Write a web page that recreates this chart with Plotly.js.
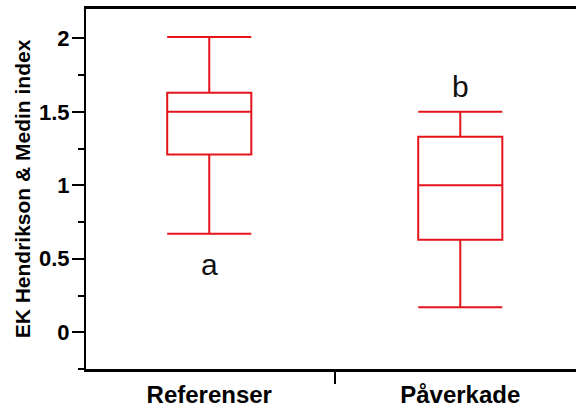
<!DOCTYPE html>
<html>
<head>
<meta charset="utf-8">
<script src="https://cdn.plot.ly/plotly-3.0.1.min.js"></script>
<style>
  html, body { margin: 0; padding: 0; background: #ffffff; }
  #chart { width: 576px; height: 410px; }
</style>
</head>
<body>
<div id="chart"></div>
<script>
// Groups and their five-number summaries (EK Hendrikson & Medin index)
const groups = ['Referenser', 'Påverkade'];
const lowerWhisker = [0.67, 0.17];
const lowerQuartile = [1.21, 0.63];
const medians = [1.50, 1.00];
const upperQuartile = [1.63, 1.33];
const upperWhisker = [2.01, 1.50];

// Significance letters shown beside each box
const letters = ['a', 'b'];
const letterY = [0.46, 1.67];

const yTickVals = [0, 0.5, 1, 1.5, 2];
const yTickText = ['0', '0.5', '1', '1.5', '2'];

const red = '#e3141c';
const font = 'Liberation Sans, Arial, Helvetica, sans-serif';

const trace = {
  type: 'box',
  x: groups,
  q1: lowerQuartile,
  median: medians,
  q3: upperQuartile,
  lowerfence: lowerWhisker,
  upperfence: upperWhisker,
  boxpoints: false,
  width: 0.335,
  whiskerwidth: 1,
  line: { color: red, width: 2 },
  fillcolor: 'rgba(255,255,255,0)',
  hoverinfo: 'skip',
  showlegend: false
};

const annotations = letters.map((t, i) => ({
  x: groups[i],
  y: letterY[i],
  xref: 'x',
  yref: 'y',
  text: t,
  showarrow: false,
  xanchor: 'center',
  yanchor: 'middle',
  font: { family: font, size: 30, color: '#111111' }
}));

const layout = {
  width: 576,
  height: 410,
  margin: { l: 86, r: 0, t: 9, b: 41 },
  paper_bgcolor: '#ffffff',
  plot_bgcolor: '#ffffff',
  font: { family: font, color: '#000000' },
  showlegend: false,
  xaxis: {
    type: 'category',
    range: [-0.491, 1.461],
    tickson: 'boundaries',
    ticks: 'outside',
    ticklen: 12,
    tickwidth: 2,
    tickcolor: '#000000',
    ticklabelstandoff: 2,
    showline: true,
    linecolor: '#000000',
    linewidth: 3,
    mirror: true,
    showgrid: false,
    zeroline: false,
    tickfont: { family: font, size: 24, color: '#000000', weight: 'bold' }
  },
  yaxis: {
    range: [-0.2501, 2.2],
    tickmode: 'array',
    tickvals: yTickVals,
    ticktext: yTickText,
    ticks: 'outside',
    ticklen: 12,
    tickwidth: 2,
    tickcolor: '#000000',
    ticklabelstandoff: -2,
    minor: { tickmode: 'linear', tick0: 0.25, dtick: 0.5, ticks: 'outside', ticklen: 6, tickwidth: 2, tickcolor: '#000000', showgrid: false },
    showline: true,
    linecolor: '#000000',
    linewidth: 2,
    mirror: false,
    showgrid: false,
    zeroline: false,
    automargin: false,
    tickfont: { family: font, size: 22, color: '#000000', weight: 'bold' },
    title: {
      text: 'EK Hendrikson & Medin index',
      font: { family: font, size: 21, color: '#000000', weight: 'bold' },
      standoff: 3
    }
  },
  annotations: annotations
};

Plotly.newPlot('chart', [trace], layout, { displayModeBar: false, staticPlot: true });
</script>
</body>
</html>
